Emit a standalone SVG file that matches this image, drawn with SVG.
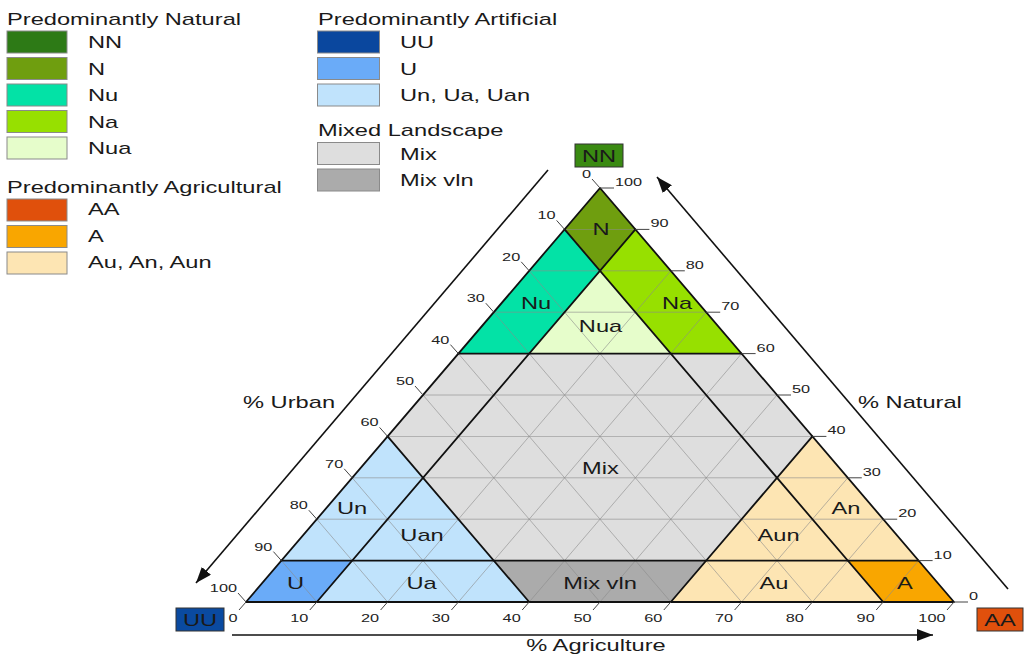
<svg xmlns="http://www.w3.org/2000/svg" width="1025" height="654" viewBox="0 0 1025 654">
<style>
.t{font-family:"Liberation Sans",Arial,sans-serif;font-size:16px;fill:#1a1a1a}
.tk{font-family:"Liberation Sans",Arial,sans-serif;font-size:11px;fill:#222}
.m{text-anchor:middle}
.e{text-anchor:end}
.sw{stroke:#8a8a8a;stroke-width:1}
.grid line{stroke:#8c8c8c;stroke-width:0.8;opacity:0.75}
.thick{stroke:#111;stroke-width:1.8;fill:none;stroke-linejoin:round;stroke-linecap:round}
.tick line{stroke:#444;stroke-width:1}
.ax{stroke:#111;stroke-width:1.6;fill:none}
.box{stroke:#333;stroke-width:1}
</style>
<defs>
<marker id="ah" markerUnits="userSpaceOnUse" markerWidth="16" markerHeight="12" refX="16" refY="6" orient="auto">
<path d="M0,0 L16,6 L0,12 z" fill="#111"/>
</marker>
</defs>
<rect width="1025" height="654" fill="#fff"/>

<g id="legend">
<text class="t" transform="translate(7,25) scale(1.48,1)">Predominantly Natural</text>
<rect class="sw" x="7" y="31" width="60" height="22" fill="#2d7a16"/><text class="t" transform="translate(88,48) scale(1.48,1)">NN</text>
<rect class="sw" x="7" y="57.5" width="60" height="22" fill="#6f9e0f"/><text class="t" transform="translate(88,74.5) scale(1.48,1)">N</text>
<rect class="sw" x="7" y="84" width="60" height="22" fill="#03e2a6"/><text class="t" transform="translate(88,101) scale(1.48,1)">Nu</text>
<rect class="sw" x="7" y="110.5" width="60" height="22" fill="#97e000"/><text class="t" transform="translate(88,127.5) scale(1.48,1)">Na</text>
<rect class="sw" x="7" y="137" width="60" height="22" fill="#e6fdcb"/><text class="t" transform="translate(88,154) scale(1.48,1)">Nua</text>
<text class="t" transform="translate(7,193) scale(1.48,1)">Predominantly Agricultural</text>
<rect class="sw" x="7" y="199" width="60" height="22" fill="#e0500c"/><text class="t" transform="translate(88,215) scale(1.48,1)">AA</text>
<rect class="sw" x="7" y="225.5" width="60" height="22" fill="#f9a600"/><text class="t" transform="translate(88,241.5) scale(1.48,1)">A</text>
<rect class="sw" x="7" y="252" width="60" height="22" fill="#fde5b3"/><text class="t" transform="translate(88,268) scale(1.48,1)">Au, An, Aun</text>
<text class="t" transform="translate(318,25) scale(1.48,1)">Predominantly Artificial</text>
<rect class="sw" x="317.5" y="31" width="62" height="22" fill="#0a479e"/><text class="t" transform="translate(400,48) scale(1.48,1)">UU</text>
<rect class="sw" x="317.5" y="57.5" width="62" height="22" fill="#6aabf8"/><text class="t" transform="translate(400,74.5) scale(1.48,1)">U</text>
<rect class="sw" x="317.5" y="84" width="62" height="22" fill="#c0e3fc"/><text class="t" transform="translate(400,101) scale(1.48,1)">Un, Ua, Uan</text>
<text class="t" transform="translate(318,136) scale(1.48,1)">Mixed Landscape</text>
<rect class="sw" x="317.5" y="142.5" width="62" height="22" fill="#dedede"/><text class="t" transform="translate(400,159.5) scale(1.48,1)">Mix</text>
<rect class="sw" x="317.5" y="169" width="62" height="22" fill="#ababab"/><text class="t" transform="translate(400,186) scale(1.48,1)">Mix vln</text>
</g>

<g id="regions">
<g id="N"><polygon points="600,188 635.4,229.4 600,270.8 564.6,229.4" fill="#6f9e0f"/></g>
<g id="Nu"><polygon points="564.6,229.4 600,270.8 529.2,353.6 458.4,353.6" fill="#03e2a6"/></g>
<g id="Na"><polygon points="635.4,229.4 741.6,353.6 670.8,353.6 600,270.8" fill="#97e000"/></g>
<g id="Nua"><polygon points="600,270.8 670.8,353.6 529.2,353.6" fill="#e6fdcb"/></g>
<g id="Mix"><polygon points="458.4,353.6 741.6,353.6 812.4,436.4 706.2,560.6 493.8,560.6 387.6,436.4" fill="#dedede"/></g>
<g id="Mixvln"><polygon points="493.8,560.6 706.2,560.6 670.8,602 529.2,602" fill="#ababab"/></g>
<g id="Un"><polygon points="387.6,436.4 423,477.8 352.2,560.6 281.4,560.6" fill="#c0e3fc"/></g>
<g id="Uan"><polygon points="423,477.8 493.8,560.6 352.2,560.6" fill="#c0e3fc"/></g>
<g id="Ua"><polygon points="352.2,560.6 493.8,560.6 529.2,602 316.8,602" fill="#c0e3fc"/></g>
<g id="U"><polygon points="281.4,560.6 352.2,560.6 316.8,602 246,602" fill="#6aabf8"/></g>
<g id="An"><polygon points="812.4,436.4 918.6,560.6 847.8,560.6 777,477.8" fill="#fde5b3"/></g>
<g id="Aun"><polygon points="777,477.8 847.8,560.6 706.2,560.6" fill="#fde5b3"/></g>
<g id="Au"><polygon points="706.2,560.6 847.8,560.6 883.2,602 670.8,602" fill="#fde5b3"/></g>
<g id="A"><polygon points="847.8,560.6 918.6,560.6 954,602 883.2,602" fill="#f9a600"/></g>
</g>

<g class="grid">
<line x1="281.4" y1="560.6" x2="918.6" y2="560.6"/>
<line x1="316.8" y1="519.2" x2="883.2" y2="519.2"/>
<line x1="352.2" y1="477.8" x2="847.8" y2="477.8"/>
<line x1="387.6" y1="436.4" x2="812.4" y2="436.4"/>
<line x1="423" y1="395" x2="777" y2="395"/>
<line x1="458.4" y1="353.6" x2="741.6" y2="353.6"/>
<line x1="493.8" y1="312.2" x2="706.2" y2="312.2"/>
<line x1="529.2" y1="270.8" x2="670.8" y2="270.8"/>
<line x1="564.6" y1="229.4" x2="635.4" y2="229.4"/>
<line x1="883.2" y1="602" x2="564.6" y2="229.4"/>
<line x1="812.4" y1="602" x2="529.2" y2="270.8"/>
<line x1="741.6" y1="602" x2="493.8" y2="312.2"/>
<line x1="670.8" y1="602" x2="458.4" y2="353.6"/>
<line x1="600" y1="602" x2="423" y2="395"/>
<line x1="529.2" y1="602" x2="387.6" y2="436.4"/>
<line x1="458.4" y1="602" x2="352.2" y2="477.8"/>
<line x1="387.6" y1="602" x2="316.8" y2="519.2"/>
<line x1="316.8" y1="602" x2="281.4" y2="560.6"/>
<line x1="316.8" y1="602" x2="635.4" y2="229.4"/>
<line x1="387.6" y1="602" x2="670.8" y2="270.8"/>
<line x1="458.4" y1="602" x2="706.2" y2="312.2"/>
<line x1="529.2" y1="602" x2="741.6" y2="353.6"/>
<line x1="600" y1="602" x2="777" y2="395"/>
<line x1="670.8" y1="602" x2="812.4" y2="436.4"/>
<line x1="741.6" y1="602" x2="847.8" y2="477.8"/>
<line x1="812.4" y1="602" x2="883.2" y2="519.2"/>
<line x1="883.2" y1="602" x2="918.6" y2="560.6"/>
</g>

<g id="boundaries">
<polygon class="thick" points="600,188 954,602 246,602"/>
<line class="thick" x1="281.4" y1="560.6" x2="918.6" y2="560.6"/>
<line class="thick" x1="458.4" y1="353.6" x2="741.6" y2="353.6"/>
<line class="thick" x1="316.8" y1="602" x2="635.4" y2="229.4"/>
<line class="thick" x1="883.2" y1="602" x2="564.6" y2="229.4"/>
<line class="thick" x1="387.6" y1="436.4" x2="529.2" y2="602"/>
<line class="thick" x1="812.4" y1="436.4" x2="670.8" y2="602"/>
</g>

<g id="region-labels">
<text class="t m" transform="translate(601,235) scale(1.48,1)">N</text>
<text class="t m" transform="translate(536,308.5) scale(1.48,1)">Nu</text>
<text class="t m" transform="translate(677,308.5) scale(1.48,1)">Na</text>
<text class="t m" transform="translate(600.5,332) scale(1.48,1)">Nua</text>
<text class="t m" transform="translate(600.5,474) scale(1.48,1)">Mix</text>
<text class="t m" transform="translate(352,514) scale(1.48,1)">Un</text>
<text class="t m" transform="translate(422,540.7) scale(1.48,1)">Uan</text>
<text class="t m" transform="translate(295.5,589.3) scale(1.48,1)">U</text>
<text class="t m" transform="translate(421.5,589.3) scale(1.48,1)">Ua</text>
<text class="t m" transform="translate(600,589.3) scale(1.48,1)">Mix vln</text>
<text class="t m" transform="translate(846,514) scale(1.48,1)">An</text>
<text class="t m" transform="translate(778.5,540.7) scale(1.48,1)">Aun</text>
<text class="t m" transform="translate(774,589.3) scale(1.48,1)">Au</text>
<text class="t m" transform="translate(905,589.3) scale(1.48,1)">A</text>
</g>

<g class="tick" id="ticks">
<line x1="600" y1="188" x2="592" y2="179"/>
<line x1="564.6" y1="229.4" x2="556.6" y2="220.4"/>
<line x1="529.2" y1="270.8" x2="521.2" y2="261.8"/>
<line x1="493.8" y1="312.2" x2="485.8" y2="303.2"/>
<line x1="458.4" y1="353.6" x2="450.4" y2="344.6"/>
<line x1="423" y1="395" x2="415" y2="386"/>
<line x1="387.6" y1="436.4" x2="379.6" y2="427.4"/>
<line x1="352.2" y1="477.8" x2="344.2" y2="468.8"/>
<line x1="316.8" y1="519.2" x2="308.8" y2="510.2"/>
<line x1="281.4" y1="560.6" x2="273.4" y2="551.6"/>
<line x1="246" y1="602" x2="238" y2="593"/>
<line x1="600" y1="188" x2="614" y2="188"/>
<line x1="635.4" y1="229.4" x2="649.4" y2="229.4"/>
<line x1="670.8" y1="270.8" x2="684.8" y2="270.8"/>
<line x1="706.2" y1="312.2" x2="720.2" y2="312.2"/>
<line x1="741.6" y1="353.6" x2="755.6" y2="353.6"/>
<line x1="777" y1="395" x2="791" y2="395"/>
<line x1="812.4" y1="436.4" x2="826.4" y2="436.4"/>
<line x1="847.8" y1="477.8" x2="861.8" y2="477.8"/>
<line x1="883.2" y1="519.2" x2="897.2" y2="519.2"/>
<line x1="918.6" y1="560.6" x2="932.6" y2="560.6"/>
<line x1="954" y1="602" x2="968" y2="602"/>
<line x1="246" y1="602" x2="239" y2="610"/>
<line x1="316.8" y1="602" x2="309.8" y2="610"/>
<line x1="387.6" y1="602" x2="380.6" y2="610"/>
<line x1="458.4" y1="602" x2="451.4" y2="610"/>
<line x1="529.2" y1="602" x2="522.2" y2="610"/>
<line x1="600" y1="602" x2="593" y2="610"/>
<line x1="670.8" y1="602" x2="663.8" y2="610"/>
<line x1="741.6" y1="602" x2="734.6" y2="610"/>
<line x1="812.4" y1="602" x2="805.4" y2="610"/>
<line x1="883.2" y1="602" x2="876.2" y2="610"/>
<line x1="954" y1="602" x2="947" y2="610"/>
</g>

<g id="tick-labels">
<text class="tk e" transform="translate(591,178) scale(1.48,1)">0</text>
<text class="tk e" transform="translate(555.6,219.4) scale(1.48,1)">10</text>
<text class="tk e" transform="translate(520.2,260.8) scale(1.48,1)">20</text>
<text class="tk e" transform="translate(484.8,302.2) scale(1.48,1)">30</text>
<text class="tk e" transform="translate(449.4,343.6) scale(1.48,1)">40</text>
<text class="tk e" transform="translate(414,385) scale(1.48,1)">50</text>
<text class="tk e" transform="translate(378.6,426.4) scale(1.48,1)">60</text>
<text class="tk e" transform="translate(343.2,467.8) scale(1.48,1)">70</text>
<text class="tk e" transform="translate(307.8,509.2) scale(1.48,1)">80</text>
<text class="tk e" transform="translate(272.4,550.6) scale(1.48,1)">90</text>
<text class="tk e" transform="translate(237,592) scale(1.48,1)">100</text>
<text class="tk" transform="translate(615,186) scale(1.48,1)">100</text>
<text class="tk" transform="translate(650.4,227.4) scale(1.48,1)">90</text>
<text class="tk" transform="translate(685.8,268.8) scale(1.48,1)">80</text>
<text class="tk" transform="translate(721.2,310.2) scale(1.48,1)">70</text>
<text class="tk" transform="translate(756.6,351.6) scale(1.48,1)">60</text>
<text class="tk" transform="translate(792,393) scale(1.48,1)">50</text>
<text class="tk" transform="translate(827.4,434.4) scale(1.48,1)">40</text>
<text class="tk" transform="translate(862.8,475.8) scale(1.48,1)">30</text>
<text class="tk" transform="translate(898.2,517.2) scale(1.48,1)">20</text>
<text class="tk" transform="translate(933.6,558.6) scale(1.48,1)">10</text>
<text class="tk" transform="translate(969,600) scale(1.48,1)">0</text>
<text class="tk e" transform="translate(237.5,622) scale(1.48,1)">0</text>
<text class="tk e" transform="translate(308.3,622) scale(1.48,1)">10</text>
<text class="tk e" transform="translate(379.1,622) scale(1.48,1)">20</text>
<text class="tk e" transform="translate(449.9,622) scale(1.48,1)">30</text>
<text class="tk e" transform="translate(520.7,622) scale(1.48,1)">40</text>
<text class="tk e" transform="translate(591.5,622) scale(1.48,1)">50</text>
<text class="tk e" transform="translate(662.3,622) scale(1.48,1)">60</text>
<text class="tk e" transform="translate(733.1,622) scale(1.48,1)">70</text>
<text class="tk e" transform="translate(803.9,622) scale(1.48,1)">80</text>
<text class="tk e" transform="translate(874.7,622) scale(1.48,1)">90</text>
<text class="tk e" transform="translate(945.5,622) scale(1.48,1)">100</text>
</g>

<g id="connectors">
<line class="ax" x1="548" y1="170" x2="196" y2="583" marker-end="url(#ah)"/>
<line class="ax" x1="1008" y1="589" x2="657" y2="177" marker-end="url(#ah)"/>
<line class="ax" x1="232" y1="635" x2="933" y2="635" marker-end="url(#ah)"/>
</g>

<g id="axis-titles">
<text class="t" transform="translate(243,407.5) scale(1.48,1)">% Urban</text>
<text class="t" transform="translate(858,407.5) scale(1.48,1)">% Natural</text>
<text class="t m" transform="translate(596,651) scale(1.48,1)">% Agriculture</text>
</g>

<g id="NN"><rect class="box" x="575" y="144" width="48" height="23" fill="#3a8a12"/><text class="t m" transform="translate(599,161.5) scale(1.48,1)">NN</text></g>
<g id="UU"><rect class="box" x="176" y="608" width="48" height="23" fill="#0a4aa0"/><text class="t m" transform="translate(200,625.5) scale(1.48,1)">UU</text></g>
<g id="AA"><rect class="box" x="977" y="608" width="46" height="23" fill="#e0500c"/><text class="t m" transform="translate(1000,625.5) scale(1.48,1)">AA</text></g>
</svg>
